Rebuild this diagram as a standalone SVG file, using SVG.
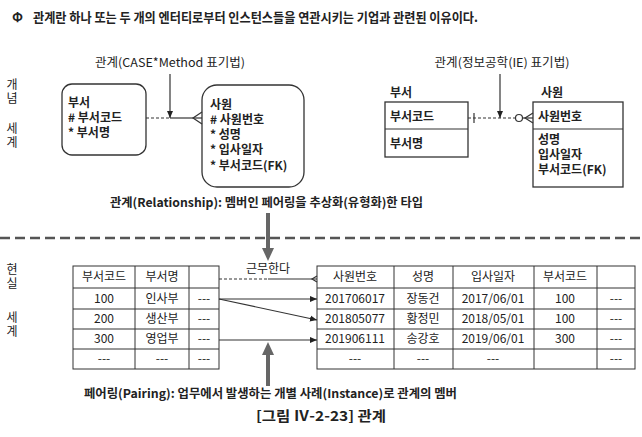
<svg xmlns="http://www.w3.org/2000/svg" width="642" height="437" viewBox="0 0 642 437">
<style>
text{font-family:"Noto Sans CJK KR","Liberation Sans",sans-serif;fill:#222;}
.b{font-weight:bold;}
.s12{font-size:12px;}
.c{text-anchor:middle;}
.v{writing-mode:vertical-rl;font-size:12px;letter-spacing:2px;}
.box{fill:#fff;stroke:#333;stroke-width:1.3;}
.ln{stroke:#333;stroke-width:1.2;fill:none;}
.dash{stroke:#333;stroke-width:1.2;fill:none;stroke-dasharray:3,2;}
.cell{fill:none;stroke:#333;stroke-width:1;}
</style>
<defs>
<marker id="ah" markerWidth="8" markerHeight="8" refX="7" refY="4" orient="auto" markerUnits="userSpaceOnUse">
<path d="M0,1 L7,4 L0,7 Z" fill="#222"/>
</marker>
</defs>
<rect width="642" height="437" fill="#fff"/>

<g id="title">
<text x="12" y="22" class="b" font-size="13">Φ</text>
<text x="33" y="22" class="b" font-size="13" textLength="445" lengthAdjust="spacingAndGlyphs">관계란 하나 또는 두 개의 엔터티로부터 인스턴스들을 연관시키는 기업과 관련된 이유이다.</text>
</g>

<g id="side-labels">
<text x="12" y="78" class="v">개념</text>
<text x="12" y="122" class="v">세계</text>
<text x="12" y="263" class="v">현실</text>
<text x="12" y="311" class="v">세계</text>
</g>

<g id="case-label"><text x="170" y="67" class="s12 c" textLength="150" lengthAdjust="spacingAndGlyphs">관계(CASE*Method 표기법)</text></g>

<g id="case-dept">
<rect x="62" y="84" width="84" height="71" rx="10" class="box"/>
<text class="s12 b"><tspan x="68" y="107">부서</tspan><tspan x="68" dy="15"># 부서코드</tspan><tspan x="68" dy="15">* 부서명</tspan></text>
</g>

<g id="case-emp">
<rect x="202" y="85" width="102" height="102" rx="15" class="box"/>
<text class="s12 b"><tspan x="210" y="109">사원</tspan><tspan x="210" dy="15"># 사원번호</tspan><tspan x="210" dy="15">* 성명</tspan><tspan x="210" dy="15">* 입사일자</tspan><tspan x="210" dy="16">* 부서코드(FK)</tspan></text>
</g>

<g id="ie-label"><text x="502" y="67" class="s12 c" textLength="135" lengthAdjust="spacingAndGlyphs">관계(정보공학(IE) 표기법)</text></g>

<g id="ie-dept">
<text x="390" y="97" class="s12 b">부서</text>
<rect x="385" y="102" width="83" height="55" class="box"/>
<line x1="385" y1="129" x2="468" y2="129" class="ln"/>
<text x="390" y="121" class="s12 b">부서코드</text>
<text x="390" y="148" class="s12 b">부서명</text>
</g>

<g id="ie-emp">
<text x="541" y="97" class="s12 b">사원</text>
<rect x="533" y="102" width="90" height="85" class="box"/>
<line x1="533" y1="129" x2="623" y2="129" class="ln"/>
<text x="538" y="121" class="s12 b">사원번호</text>
<text class="s12 b"><tspan x="538" y="144">성명</tspan><tspan x="538" dy="15">입사일자</tspan><tspan x="538" dy="15">부서코드(FK)</tspan></text>
</g>

<g id="rel-text"><text x="110" y="207" class="s12 b" textLength="313" lengthAdjust="spacingAndGlyphs">관계(Relationship): 멤버인 페어링을 추상화(유형화)한 타입</text></g>

<g id="left-table" class="s12">
<rect x="73" y="266" width="146" height="103" class="cell"/>
<line x1="135" y1="266" x2="135" y2="369" class="cell"/>
<line x1="189" y1="266" x2="189" y2="369" class="cell"/>
<line x1="73" y1="288" x2="219" y2="288" class="cell"/>
<line x1="73" y1="309" x2="219" y2="309" class="cell"/>
<line x1="73" y1="329" x2="219" y2="329" class="cell"/>
<line x1="73" y1="349" x2="219" y2="349" class="cell"/>
<text x="104" y="281" class="c">부서코드</text><text x="162" y="281" class="c">부서명</text>
<text x="104" y="303" class="c">100</text><text x="162" y="303" class="c">인사부</text><text x="204" y="303" class="c">---</text>
<text x="104" y="323" class="c">200</text><text x="162" y="323" class="c">생산부</text><text x="204" y="323" class="c">---</text>
<text x="104" y="343" class="c">300</text><text x="162" y="343" class="c">영업부</text><text x="204" y="343" class="c">---</text>
<text x="104" y="363" class="c">---</text><text x="162" y="363" class="c">---</text><text x="204" y="363" class="c">---</text>
</g>

<g id="right-table" class="s12">
<rect x="317" y="266" width="318" height="103" class="cell"/>
<line x1="394" y1="266" x2="394" y2="369" class="cell"/>
<line x1="453" y1="266" x2="453" y2="369" class="cell"/>
<line x1="534" y1="266" x2="534" y2="369" class="cell"/>
<line x1="597" y1="266" x2="597" y2="369" class="cell"/>
<line x1="317" y1="288" x2="635" y2="288" class="cell"/>
<line x1="317" y1="309" x2="635" y2="309" class="cell"/>
<line x1="317" y1="329" x2="635" y2="329" class="cell"/>
<line x1="317" y1="349" x2="635" y2="349" class="cell"/>
<text x="355" y="281" class="c">사원번호</text><text x="423" y="281" class="c">성명</text><text x="493" y="281" class="c">입사일자</text><text x="565" y="281" class="c">부서코드</text>
<text x="355" y="303" class="c">201706017</text><text x="423" y="303" class="c">장동건</text><text x="493" y="303" class="c">2017/06/01</text><text x="565" y="303" class="c">100</text><text x="616" y="303" class="c">---</text>
<text x="355" y="323" class="c">201805077</text><text x="423" y="323" class="c">황정민</text><text x="493" y="323" class="c">2018/05/01</text><text x="565" y="323" class="c">100</text><text x="616" y="323" class="c">---</text>
<text x="355" y="343" class="c">201906111</text><text x="423" y="343" class="c">송강호</text><text x="493" y="343" class="c">2019/06/01</text><text x="565" y="343" class="c">300</text><text x="616" y="343" class="c">---</text>
<text x="355" y="363" class="c">---</text><text x="423" y="363" class="c">---</text><text x="493" y="363" class="c">---</text><text x="616" y="363" class="c">---</text>
</g>

<g id="pair-text"><text x="84" y="398" class="s12 b" textLength="373" lengthAdjust="spacingAndGlyphs">페어링(Pairing): 업무에서 발생하는 개별 사례(Instance)로 관계의 멤버</text></g>

<g id="caption"><text x="321" y="421" class="c b" font-size="14" textLength="130" lengthAdjust="spacingAndGlyphs">[그림 Ⅳ-2-23] 관계</text></g>

<g id="connectors">
<line x1="146" y1="118" x2="170" y2="118" class="dash"/>
<line x1="170" y1="118" x2="202" y2="118" class="ln"/>
<path d="M202,112 L193,118 L202,124" class="ln"/>
<line x1="170" y1="74" x2="170" y2="118" class="ln" marker-end="url(#ah)"/>
<line x1="468" y1="118" x2="515" y2="118" class="dash"/>
<line x1="474" y1="113" x2="474" y2="123" class="ln"/>
<circle cx="519" cy="118" r="3.5" class="ln" fill="#fff"/>
<line x1="523" y1="118" x2="533" y2="118" class="ln"/>
<path d="M533,113 L525,118 L533,123" class="ln"/>
<line x1="500" y1="74" x2="500" y2="118" class="ln" marker-end="url(#ah)"/>
<line x1="0" y1="238" x2="642" y2="238" stroke="#555" stroke-width="2.5" stroke-dasharray="10,5"/>
<line x1="268" y1="213" x2="268" y2="250" stroke="#666" stroke-width="4"/>
<path d="M262,248 L274,248 L268,261 Z" fill="#666"/>
<text x="268" y="273" class="s12 c">근무한다</text>
<line x1="219" y1="279" x2="268" y2="279" class="dash"/>
<line x1="268" y1="279" x2="317" y2="279" class="ln"/>
<path d="M317,276 L312,279 L317,282" class="ln"/>
<line x1="219" y1="299" x2="317" y2="299" class="ln" marker-end="url(#ah)"/>
<line x1="219" y1="299" x2="317" y2="320" class="ln" marker-end="url(#ah)"/>
<line x1="219" y1="340" x2="317" y2="340" class="ln" marker-end="url(#ah)"/>
<line x1="268" y1="352" x2="268" y2="386" stroke="#666" stroke-width="4"/>
<path d="M262,355 L274,355 L268,342 Z" fill="#666"/>
</g>
</svg>
